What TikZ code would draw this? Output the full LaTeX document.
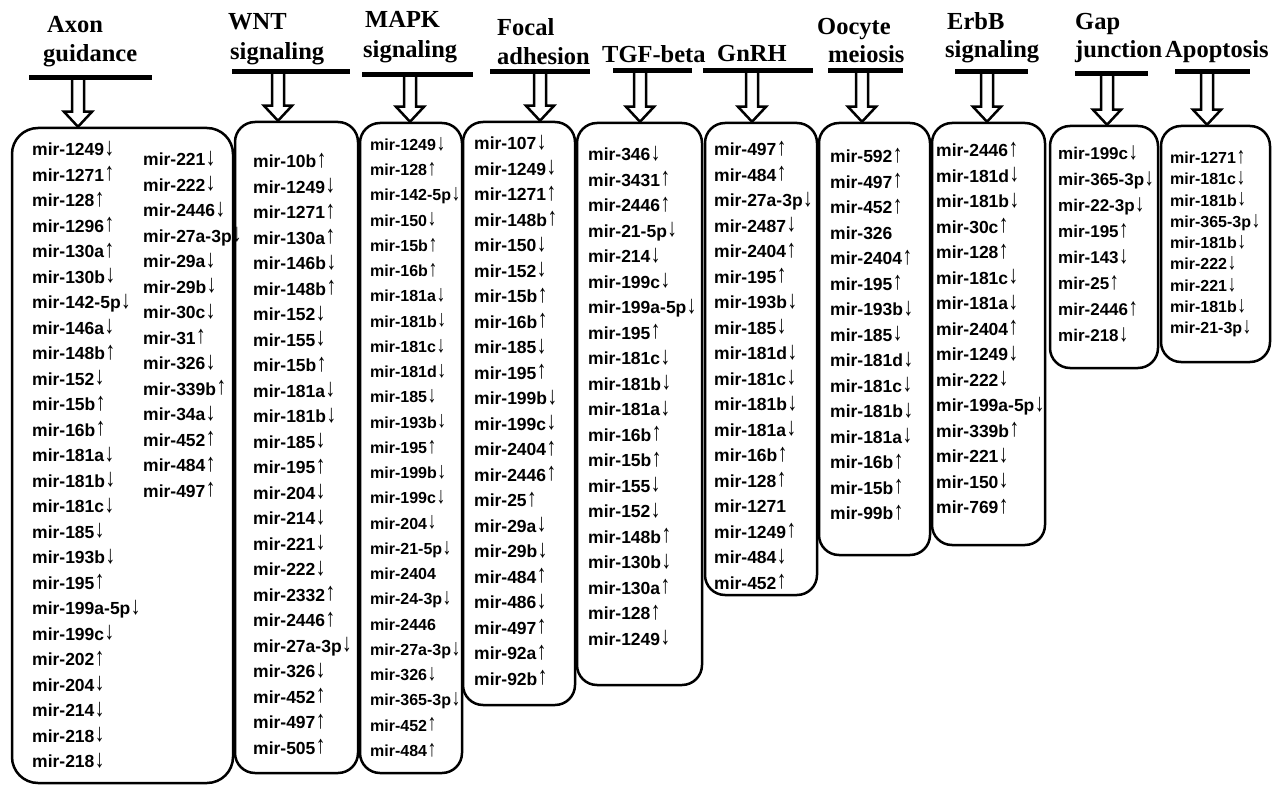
\documentclass[tikz,border=0pt]{standalone}
\usepackage{fontspec}
\usepackage{graphicx}
\setmainfont{Liberation Serif}
\newfontfamily\mirfont{Liberation Sans}
\usetikzlibrary{calc}
\usetikzlibrary{positioning}

% up / down regulation marks
\newcommand\mup{\kern0.5pt\raisebox{0.2pt}{\scalebox{1.1}[1.45]{↑}}}
\newcommand\mdn{\kern0.5pt\raisebox{0.2pt}{\scalebox{1.1}[1.45]{↓}}}

\tikzset{
  head/.style={font=\bfseries\fontsize{24.5}{28}\selectfont, anchor=base west, inner sep=0pt},
  hbar/.style={fill=black, minimum height=5pt, inner sep=0pt},
  mirbox/.style={draw, line width=2.5pt, rounded corners=20pt, inner sep=0pt},
  mirlist/.style={font=\mirfont\bfseries\fontsize{17.5}{25.5}\selectfont, align=left, anchor=north west, inner sep=0pt},
  downarrow/.style={line width=2.5pt, line join=miter,
    to path={let \p1=(\tikztostart), \p2=(\tikztotarget) in
      (\x1-6pt,\y1) -- (\x1-6pt,\y2+15pt) -- (\x1-14pt,\y2+15pt) -- (\x1,\y2)
      -- (\x1+14pt,\y2+15pt) -- (\x1+6pt,\y2+15pt) -- (\x1+6pt,\y1)}}
}

\begin{document}
\begin{tikzpicture}[x=1pt, y=-1pt]
\useasboundingbox (0,0) rectangle (1287,786);

% headings
\node[head] (axonA) at (47,33) {Axon};
\node[head] (axonB) at (43,62) {guidance};
\node[head] (wntA) at (228,30) {WNT};
\node[head] (wntB) at (230,60) {signaling};
\node[head] (mapkA) at (365,28) {MAPK};
\node[head] (mapkB) at (363,58) {signaling};
\node[head] (focalA) at (497,36) {Focal};
\node[head] (focalB) at (497,65) {adhesion};
\node[head] (tgf) at (602,63) {TGF-beta};
\node[head] (gnrh) at (717,62) {GnRH};
\node[head] (oocA) at (817,35) {Oocyte};
\node[head] (oocB) at (828,63) {meiosis};
\node[head] (erbbA) at (947,30) {ErbB};
\node[head] (erbbB) at (945,58) {signaling};
\node[head] (gapA) at (1075,30) {Gap};
\node[head] (gapB) at (1075,58) {junction};
\node[head] (apop) at (1165,58) {Apoptosis};

% bars
\node[hbar, minimum width=123pt] (bar1) at (90.5,78) {};
\node[hbar, minimum width=118pt] (bar2) at (291,72) {};
\node[hbar, minimum width=111pt] (bar3) at (417.5,75) {};
\node[hbar, minimum width=100pt] (bar4) at (540,72) {};
\node[hbar, minimum width=79pt] (bar5) at (652.5,71) {};
\node[hbar, minimum width=110pt] (bar6) at (758,71) {};
\node[hbar, minimum width=75pt] (bar7) at (865.5,71) {};
\node[hbar, minimum width=73pt] (bar8) at (991.5,72) {};
\node[hbar, minimum width=73pt] (bar9) at (1111.5,74) {};
\node[hbar, minimum width=75pt] (bar10) at (1212.5,72) {};

% boxes
\node[mirbox, rounded corners=26pt, minimum width=221pt, minimum height=655pt] (axonbox) at (122.5,455.5) {};
\node[mirbox, minimum width=123pt, minimum height=651pt] (wntbox) at (296.5,447.5) {};
\node[mirbox, minimum width=102pt, minimum height=650pt] (mapkbox) at (411,448) {};
\node[mirbox, minimum width=112pt, minimum height=583pt] (focalbox) at (519,413.5) {};
\node[mirbox, minimum width=125pt, minimum height=562pt] (tgfbox) at (639.5,404) {};
\node[mirbox, minimum width=112pt, minimum height=472pt] (gnrhbox) at (761,359) {};
\node[mirbox, minimum width=111pt, minimum height=432pt] (oocbox) at (874.5,339) {};
\node[mirbox, minimum width=113pt, minimum height=422pt] (erbbbox) at (988.5,334) {};
\node[mirbox, minimum width=108pt, minimum height=242pt] (gapbox) at (1104,247) {};
\node[mirbox, minimum width=109pt, minimum height=236pt] (apopbox) at (1215.5,244) {};

% arrows
\coordinate (a1) at (78,78);
\coordinate (a2) at (278,72);
\coordinate (a3) at (410,75);
\coordinate (a4) at (540,72);
\coordinate (a5) at (640,71);
\coordinate (a6) at (752,71);
\coordinate (a7) at (862,71);
\coordinate (a8) at (987,72);
\coordinate (a9) at (1107,74);
\coordinate (a10) at (1207,72);
\draw[downarrow] (a1) to (a1 |- axonbox.north);
\draw[downarrow] (a2) to (a2 |- wntbox.north);
\draw[downarrow] (a3) to (a3 |- mapkbox.north);
\draw[downarrow] (a4) to (a4 |- focalbox.north);
\draw[downarrow] (a5) to (a5 |- tgfbox.north);
\draw[downarrow] (a6) to (a6 |- gnrhbox.north);
\draw[downarrow] (a7) to (a7 |- oocbox.north);
\draw[downarrow] (a8) to (a8 |- erbbbox.north);
\draw[downarrow] (a9) to (a9 |- gapbox.north);
\draw[downarrow] (a10) to (a10 |- apopbox.north);

% miRNA lists
\node[mirlist] (axonL) at (32,141) {mir-1249\mdn\\mir-1271\mup\\mir-128\mup\\mir-1296\mup\\mir-130a\mup\\mir-130b\mdn\\mir-142-5p\mdn\\mir-146a\mdn\\mir-148b\mup\\mir-152\mdn\\mir-15b\mup\\mir-16b\mup\\mir-181a\mdn\\mir-181b\mdn\\mir-181c\mdn\\mir-185\mdn\\mir-193b\mdn\\mir-195\mup\\mir-199a-5p\mdn\\mir-199c\mdn\\mir-202\mup\\mir-204\mdn\\mir-214\mdn\\mir-218\mdn\\mir-218\mdn};
\node[mirlist] (axonR) at (143,151) {mir-221\mdn\\mir-222\mdn\\mir-2446\mdn\\mir-27a-3p\mdn\\mir-29a\mdn\\mir-29b\mdn\\mir-30c\mdn\\mir-31\mup\\mir-326\mdn\\mir-339b\mup\\mir-34a\mdn\\mir-452\mup\\mir-484\mup\\mir-497\mup};
\node[mirlist] (wntlist) at (253,153) {mir-10b\mup\\mir-1249\mdn\\mir-1271\mup\\mir-130a\mup\\mir-146b\mdn\\mir-148b\mup\\mir-152\mdn\\mir-155\mdn\\mir-15b\mup\\mir-181a\mdn\\mir-181b\mdn\\mir-185\mdn\\mir-195\mup\\mir-204\mdn\\mir-214\mdn\\mir-221\mdn\\mir-222\mdn\\mir-2332\mup\\mir-2446\mup\\mir-27a-3p\mdn\\mir-326\mdn\\mir-452\mup\\mir-497\mup\\mir-505\mup};
\node[mirlist, font=\mirfont\bfseries\fontsize{16}{25.25}\selectfont] (mapklist) at (370,137) {mir-1249\mdn\\mir-128\mup\\mir-142-5p\mdn\\mir-150\mdn\\mir-15b\mup\\mir-16b\mup\\mir-181a\mdn\\mir-181b\mdn\\mir-181c\mdn\\mir-181d\mdn\\mir-185\mdn\\mir-193b\mdn\\mir-195\mup\\mir-199b\mdn\\mir-199c\mdn\\mir-204\mdn\\mir-21-5p\mdn\\mir-2404\\mir-24-3p\mdn\\mir-2446\\mir-27a-3p\mdn\\mir-326\mdn\\mir-365-3p\mdn\\mir-452\mup\\mir-484\mup};
\node[mirlist] (focallist) at (474,135) {mir-107\mdn\\mir-1249\mdn\\mir-1271\mup\\mir-148b\mup\\mir-150\mdn\\mir-152\mdn\\mir-15b\mup\\mir-16b\mup\\mir-185\mdn\\mir-195\mup\\mir-199b\mdn\\mir-199c\mdn\\mir-2404\mup\\mir-2446\mup\\mir-25\mup\\mir-29a\mdn\\mir-29b\mdn\\mir-484\mup\\mir-486\mdn\\mir-497\mup\\mir-92a\mup\\mir-92b\mup};
\node[mirlist] (tgflist) at (588,146) {mir-346\mdn\\mir-3431\mup\\mir-2446\mup\\mir-21-5p\mdn\\mir-214\mdn\\mir-199c\mdn\\mir-199a-5p\mdn\\mir-195\mup\\mir-181c\mdn\\mir-181b\mdn\\mir-181a\mdn\\mir-16b\mup\\mir-15b\mup\\mir-155\mdn\\mir-152\mdn\\mir-148b\mup\\mir-130b\mdn\\mir-130a\mup\\mir-128\mup\\mir-1249\mdn};
\node[mirlist] (gnrhlist) at (714,141) {mir-497\mup\\mir-484\mup\\mir-27a-3p\mdn\\mir-2487\mdn\\mir-2404\mup\\mir-195\mup\\mir-193b\mdn\\mir-185\mdn\\mir-181d\mdn\\mir-181c\mdn\\mir-181b\mdn\\mir-181a\mdn\\mir-16b\mup\\mir-128\mup\\mir-1271\\mir-1249\mup\\mir-484\mdn\\mir-452\mup};
\node[mirlist] (ooclist) at (830,148) {mir-592\mup\\mir-497\mup\\mir-452\mup\\mir-326\\mir-2404\mup\\mir-195\mup\\mir-193b\mdn\\mir-185\mdn\\mir-181d\mdn\\mir-181c\mdn\\mir-181b\mdn\\mir-181a\mdn\\mir-16b\mup\\mir-15b\mup\\mir-99b\mup};
\node[mirlist] (erbblist) at (936,142) {mir-2446\mup\\mir-181d\mdn\\mir-181b\mdn\\mir-30c\mup\\mir-128\mup\\mir-181c\mdn\\mir-181a\mdn\\mir-2404\mup\\mir-1249\mdn\\mir-222\mdn\\mir-199a-5p\mdn\\mir-339b\mup\\mir-221\mdn\\mir-150\mdn\\mir-769\mup};
\node[mirlist, font=\mirfont\bfseries\fontsize{17}{26}\selectfont] (gaplist) at (1058,145) {mir-199c\mdn\\mir-365-3p\mdn\\mir-22-3p\mdn\\mir-195\mup\\mir-143\mdn\\mir-25\mup\\mir-2446\mup\\mir-218\mdn};
\node[mirlist, font=\mirfont\bfseries\fontsize{16}{21.3}\selectfont] (apoplist) at (1170,150) {mir-1271\mup\\mir-181c\mdn\\mir-181b\mdn\\mir-365-3p\mdn\\mir-181b\mdn\\mir-222\mdn\\mir-221\mdn\\mir-181b\mdn\\mir-21-3p\mdn};
\end{tikzpicture}
\end{document}
